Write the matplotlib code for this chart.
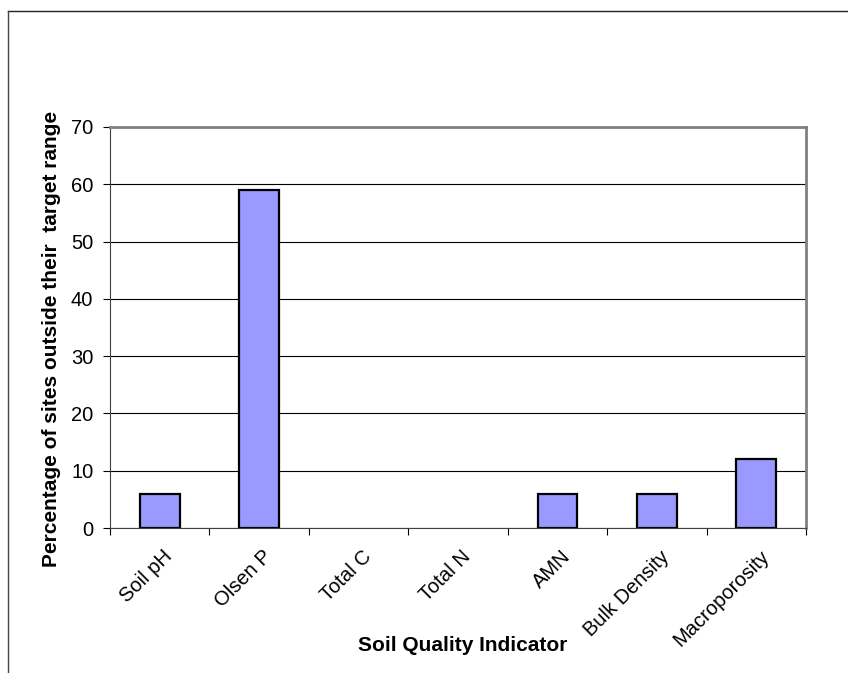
import matplotlib

matplotlib.use("Agg")
import matplotlib.pyplot as plt
from matplotlib.lines import Line2D

plt.rcParams["font.family"] = ["Liberation Sans", "DejaVu Sans"]

# Data
indicators = ["Soil pH", "Olsen P", "Total C", "Total N", "AMN", "Bulk Density", "Macroporosity"]
pct_outside = [6, 59, 0, 0, 6, 6, 12]
y_ticks = [0, 10, 20, 30, 40, 50, 60, 70]

W, H = 848, 673
fig = plt.figure(figsize=(W / 100, H / 100), dpi=100)
ax = fig.add_axes([110 / W, 1 - 528 / H, 696 / W, 401 / H])

x = range(len(indicators))
# empty categories get no outline, as in the original
edge_w = [1.6 if v > 0 else 0 for v in pct_outside]
ax.bar(x, pct_outside, width=0.4, color="#9999FF", edgecolor="black", linewidth=edge_w, zorder=3)

ax.set_xlim(-0.5, len(indicators) - 0.5)
ax.set_ylim(0, 70)
ax.set_yticks(y_ticks)
ax.tick_params(axis="y", labelsize=14.5, length=5, width=0.8, pad=7, direction="out")

# category ticks sit on the boundaries between bars
ax.set_xticks([i - 0.5 for i in range(len(indicators) + 1)])
ax.set_xticklabels([])
ax.tick_params(axis="x", length=5, width=0.8, direction="out")
for i, name in enumerate(indicators):
    ax.text(i + 0.03, -3.3, name, rotation=45, ha="right", va="top", rotation_mode="anchor",
            fontsize=14.5)

ax.yaxis.grid(True, color="black", linewidth=0.8, zorder=0)
ax.set_axisbelow(True)
for side in ("top", "right"):
    ax.spines[side].set_color("#808080")
    ax.spines[side].set_linewidth(2)
ax.spines["left"].set_color("#404040")
ax.spines["bottom"].set_color("#404040")

fig.text(52 / W, 1 - 339 / H, "Percentage of sites outside their  target range", fontsize=15,
         fontweight="bold", rotation=90, ha="center", va="center")
fig.text(463 / W, 1 - 651 / H, "Soil Quality Indicator", fontsize=15, fontweight="bold",
         ha="center", va="baseline")

# chart-area frame (only top and left edges fall inside the crop)
fig.add_artist(Line2D([8 / W, 1], [1 - 11 / H, 1 - 11 / H], color="#222222", linewidth=1))
fig.add_artist(Line2D([8 / W, 8 / W], [0, 1 - 11 / H], color="#444444", linewidth=1))

fig.savefig("out.png", dpi=100)
plt.close(fig)
